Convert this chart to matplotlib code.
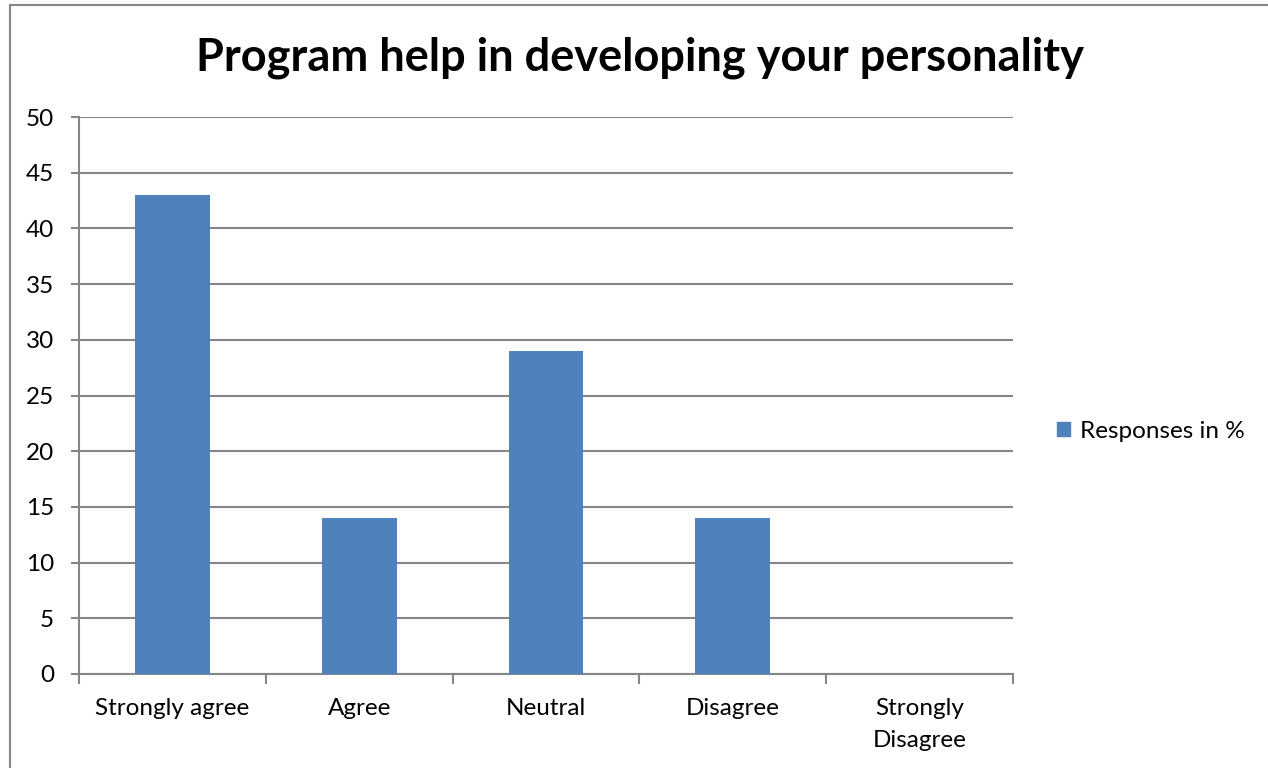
import matplotlib
matplotlib.use("Agg")
import matplotlib.pyplot as plt
import matplotlib.transforms as mtransforms
from matplotlib.patches import Rectangle
import numpy as np

categories = ["Strongly agree", "Agree", "Neutral", "Disagree", "Strongly\nDisagree"]
values = [43, 14, 29, 14, 0]
series_name = "Responses in %"
yticks = [0, 5, 10, 15, 20, 25, 30, 35, 40, 45, 50]

plt.rcParams['font.family'] = ['Lato', 'DejaVu Sans']
W, H = 1268, 768
fig = plt.figure(figsize=(W/100, H/100), dpi=100)
fig.patch.set_facecolor('white')

# outer chart border
fig.add_artist(Rectangle((10/W, -0.05), 1.2, (768-5)/H + 0.05, transform=fig.transFigure,
                         fill=False, edgecolor='#868686', linewidth=1.5))

ax = fig.add_axes([79/W, 1-674/H, 934/W, 557/H])
x = np.arange(len(categories))
bar_color = '#4F81BD'
ax.bar(x, values, width=0.4, color=bar_color, label=series_name, zorder=3)
ax.set_xlim(-0.5, len(categories)-0.5)
ax.set_ylim(0, 50)
ax.set_yticks(yticks)
ax.set_yticklabels([str(t) for t in yticks], fontsize=17.5)
ax.yaxis.grid(True, color='#868686', linewidth=1.5, zorder=0)
ax.set_axisbelow(True)

for s in ['top', 'right']:
    ax.spines[s].set_visible(False)
for s in ['left', 'bottom']:
    ax.spines[s].set_color('#868686')
    ax.spines[s].set_linewidth(1.5)

ax.tick_params(axis='y', direction='out', length=6, width=1.5, color='#868686', pad=12)
# x ticks at category boundaries
ax.set_xticks(np.arange(-0.5, len(categories), 1.0))
ax.set_xticklabels([])
ax.tick_params(axis='x', direction='out', length=7, width=1.5, color='#868686')

off = mtransforms.offset_copy(ax.get_xaxis_transform(), fig=fig, x=0, y=-24, units='dots')
for i, c in enumerate(categories):
    ax.text(i, 0, c, ha='center', va='top', fontsize=17.5, transform=off, linespacing=1.65)

fig.text(640/W, 1-58/H, "Program help in developing your personality", ha='center', va='center',
         fontsize=32.5, fontweight='bold')

leg = fig.legend(handles=[Rectangle((0, 0), 1, 1, color=bar_color)], labels=[series_name],
                 loc='center left', bbox_to_anchor=(1057/W, 1-431/H), frameon=False, fontsize=17.5,
                 handlelength=0.55, handleheight=0.55, handletextpad=0.4, borderpad=0, borderaxespad=0)

fig.savefig("out.png", dpi=100)
